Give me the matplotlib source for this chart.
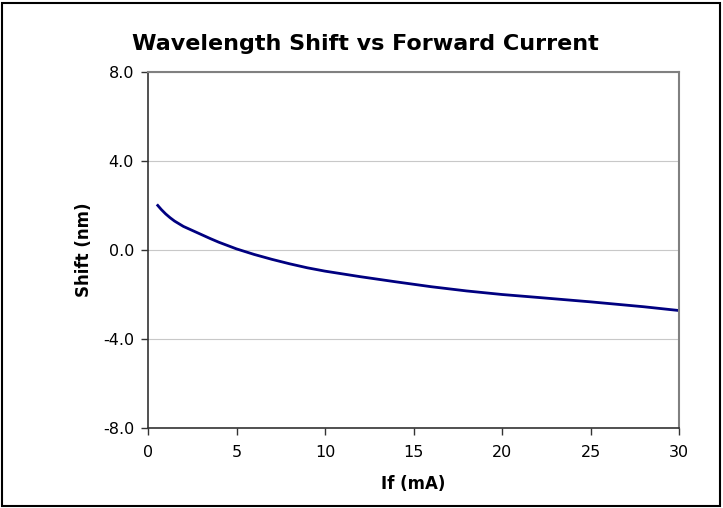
import matplotlib.pyplot as plt
from matplotlib.patches import Rectangle

# data
current_ma = [0.5, 0.75, 1, 1.25, 1.5, 2, 2.5, 3, 3.5, 4, 4.5, 5, 6, 7, 8, 9, 10, 12, 14, 16, 18, 20, 22, 25, 28, 30]
shift_nm = [2.05, 1.82, 1.62, 1.45, 1.3, 1.06, 0.88, 0.7, 0.52, 0.35, 0.2, 0.05, -0.2, -0.42, -0.62, -0.8, -0.95, -1.2, -1.43, -1.65, -1.84, -2.0, -2.13, -2.33, -2.55, -2.72]
x_ticks = [0, 5, 10, 15, 20, 25, 30]
y_ticks = [-8.0, -4.0, 0.0, 4.0, 8.0]

plt.rcParams['font.family'] = ['DejaVu Sans']

fig = plt.figure(figsize=(7.23, 5.08), dpi=100)
ax = fig.add_axes([148/723, 1 - 428/508, (679-148)/723, (428-72)/508])

ax.plot(current_ma, shift_nm, color='#000080', lw=2.0, solid_capstyle='butt', solid_joinstyle='round')

ax.set_xlim(0, 30)
ax.set_ylim(-8, 8)
ax.set_xticks(x_ticks)
ax.set_yticks(y_ticks)
ax.set_yticklabels(['%.1f' % v for v in y_ticks])
ax.grid(axis='y', color='#c8c8c8', lw=0.8)
ax.set_axisbelow(True)

for s in ['top', 'right']:
    ax.spines[s].set_color('#808080')
    ax.spines[s].set_linewidth(1.5)
for s in ['left', 'bottom']:
    ax.spines[s].set_color('#333333')
    ax.spines[s].set_linewidth(1.2)

ax.tick_params(direction='out', length=5, width=1, color='#333333', labelsize=11.5)
ax.tick_params(axis='x', pad=7)
ax.tick_params(axis='y', pad=5)

ax.set_xlabel('If (mA)', fontsize=12, fontweight='bold', labelpad=11)
ax.set_ylabel('Shift (nm)', fontsize=12, fontweight='bold', labelpad=7)
fig.text(0.505, 1 - 44/508, 'Wavelength Shift vs Forward Current', ha='center', va='center',
         fontsize=16, fontweight='bold')

# outer frame
fig.patches.append(Rectangle((2/723, 2/508), 718/723, 503/508, transform=fig.transFigure,
                             fill=False, edgecolor='black', lw=1.5))

fig.savefig('out.png', dpi=100)
